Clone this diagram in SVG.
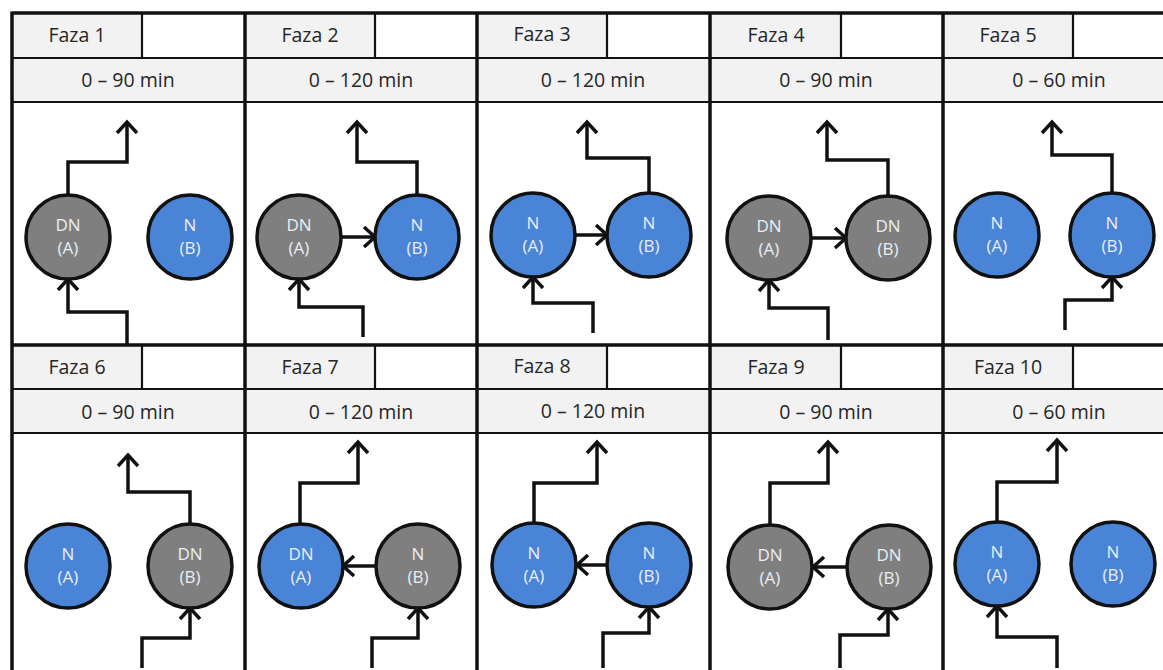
<svg xmlns="http://www.w3.org/2000/svg" width="1163" height="670" viewBox="0 0 1163 670">
<style>
.hd{fill:#f2f2f2}
.t{font-family:"Open Sans","Liberation Sans",sans-serif;font-size:19.5px;fill:#262626;text-anchor:middle}
.ct{font-family:"Open Sans","Liberation Sans",sans-serif;font-size:17px;fill:#e9eef5;text-anchor:middle}
.blue{fill:#4a84d6;stroke:#111;stroke-width:3.5}
.grey{fill:#7f7f7f;stroke:#111;stroke-width:3.5}
.g{stroke:#111;fill:none}
.a{stroke:#111;stroke-width:3.5;fill:none;marker-end:url(#ah)}
</style>
<defs>
<marker id="ah" markerUnits="userSpaceOnUse" markerWidth="30" markerHeight="30" refX="0" refY="0" orient="auto" overflow="visible" viewBox="-15 -15 30 30">
<path d="M-11,-10 L0,0 L-11,10" fill="none" stroke="#111" stroke-width="3.5"/>
</marker>
</defs>
<rect width="1163" height="670" fill="#fff"/>
<g id="cells">
<g id="cell1"><rect class="hd" x="12" y="13" width="130" height="45"/><rect class="hd" x="12" y="58" width="233" height="44"/><text class="t" x="77" y="42">Faza 1</text><text class="t" x="128" y="87">0 – 90 min</text></g>
<g id="cell2"><rect class="hd" x="245" y="13" width="130" height="45"/><rect class="hd" x="245" y="58" width="232" height="44"/><text class="t" x="310" y="42">Faza 2</text><text class="t" x="361" y="87">0 – 120 min</text></g>
<g id="cell3"><rect class="hd" x="477" y="13" width="130" height="45"/><rect class="hd" x="477" y="58" width="233" height="44"/><text class="t" x="542" y="41">Faza 3</text><text class="t" x="593" y="87">0 – 120 min</text></g>
<g id="cell4"><rect class="hd" x="710" y="13" width="131" height="45"/><rect class="hd" x="710" y="58" width="233" height="44"/><text class="t" x="776" y="42">Faza 4</text><text class="t" x="826" y="87">0 – 90 min</text></g>
<g id="cell5"><rect class="hd" x="943" y="13" width="130" height="45"/><rect class="hd" x="943" y="58" width="220" height="44"/><text class="t" x="1008" y="42">Faza 5</text><text class="t" x="1059" y="87">0 – 60 min</text></g>
<g id="cell6"><rect class="hd" x="12" y="345" width="130" height="44"/><rect class="hd" x="12" y="389" width="233" height="44"/><text class="t" x="77" y="374">Faza 6</text><text class="t" x="128" y="419">0 – 90 min</text></g>
<g id="cell7"><rect class="hd" x="245" y="345" width="130" height="44"/><rect class="hd" x="245" y="389" width="232" height="44"/><text class="t" x="310" y="374">Faza 7</text><text class="t" x="361" y="419">0 – 120 min</text></g>
<g id="cell8"><rect class="hd" x="477" y="345" width="130" height="44"/><rect class="hd" x="477" y="389" width="233" height="44"/><text class="t" x="542" y="373">Faza 8</text><text class="t" x="593" y="418">0 – 120 min</text></g>
<g id="cell9"><rect class="hd" x="710" y="345" width="131" height="44"/><rect class="hd" x="710" y="389" width="233" height="44"/><text class="t" x="776" y="374">Faza 9</text><text class="t" x="826" y="419">0 – 90 min</text></g>
<g id="cell10"><rect class="hd" x="943" y="345" width="130" height="44"/><rect class="hd" x="943" y="389" width="220" height="44"/><text class="t" x="1008" y="374">Faza 10</text><text class="t" x="1059" y="419">0 – 60 min</text></g>
</g>
<g id="grid" class="g">
<path stroke-width="3.5" d="M12,13 H1163 M12,345 H1163 M12,11.5 V670 M245,13 V670 M477,13 V670 M710,13 V670 M943,13 V670"/>
<path stroke-width="2.2" d="M12,58 H1163 M12,102 H1163 M12,389 H1163 M12,433 H1163 M142,13 V58 M375,13 V58 M607,13 V58 M841,13 V58 M1073,13 V58 M142,345 V389 M375,345 V389 M607,345 V389 M841,345 V389 M1073,345 V389"/>
</g>
<g id="connectors">
<path class="a" d="M68,195 V162 H127 V122"/>
<path class="a" d="M127,344 V312 H68 V279"/>
<path class="a" d="M417,195 V162 H357 V122"/>
<path class="a" d="M341,237 H375"/>
<path class="a" d="M363,337 V307 H299 V279"/>
<path class="a" d="M649,193 V158 H587 V122"/>
<path class="a" d="M575,235 H607"/>
<path class="a" d="M593,333 V303 H533 V277"/>
<path class="a" d="M888,196 V160 H827 V122"/>
<path class="a" d="M811,238 H846"/>
<path class="a" d="M828,340 V308 H769 V280"/>
<path class="a" d="M1112,193 V155 H1052 V122"/>
<path class="a" d="M1065,330 V300 H1112 V277"/>
<path class="a" d="M190,524 V492 H128 V455"/>
<path class="a" d="M142,668 V638 H190 V608"/>
<path class="a" d="M300,524 V483 H358 V442"/>
<path class="a" d="M376,566 H343"/>
<path class="a" d="M372,668 V638 H418 V608"/>
<path class="a" d="M534,523 V483 H597 V442"/>
<path class="a" d="M607,565 H577"/>
<path class="a" d="M603,668 V633 H649 V607"/>
<path class="a" d="M770,526 V483 H828 V442"/>
<path class="a" d="M847,567 H813"/>
<path class="a" d="M840,668 V635 H888 V609"/>
<path class="a" d="M997,523 V482 H1057 V440"/>
<path class="a" d="M1057,668 V637 H997 V606"/>
</g>
<g id="n1A"><circle class="grey" cx="68" cy="237" r="42"/><text class="ct" x="68" y="231">DN</text><text class="ct" x="68" y="254">(A)</text></g>
<g id="n1B"><circle class="blue" cx="190" cy="237" r="42"/><text class="ct" x="190" y="231">N</text><text class="ct" x="190" y="254">(B)</text></g>
<g id="n2A"><circle class="grey" cx="299" cy="237" r="42"/><text class="ct" x="299" y="231">DN</text><text class="ct" x="299" y="254">(A)</text></g>
<g id="n2B"><circle class="blue" cx="417" cy="237" r="42"/><text class="ct" x="417" y="231">N</text><text class="ct" x="417" y="254">(B)</text></g>
<g id="n3A"><circle class="blue" cx="533" cy="235" r="42"/><text class="ct" x="533" y="229">N</text><text class="ct" x="533" y="252">(A)</text></g>
<g id="n3B"><circle class="blue" cx="649" cy="235" r="42"/><text class="ct" x="649" y="229">N</text><text class="ct" x="649" y="252">(B)</text></g>
<g id="n4A"><circle class="grey" cx="769" cy="238" r="42"/><text class="ct" x="769" y="232">DN</text><text class="ct" x="769" y="255">(A)</text></g>
<g id="n4B"><circle class="grey" cx="888" cy="238" r="42"/><text class="ct" x="888" y="232">DN</text><text class="ct" x="888" y="255">(B)</text></g>
<g id="n5A"><circle class="blue" cx="997" cy="235" r="42"/><text class="ct" x="997" y="229">N</text><text class="ct" x="997" y="252">(A)</text></g>
<g id="n5B"><circle class="blue" cx="1112" cy="235" r="42"/><text class="ct" x="1112" y="229">N</text><text class="ct" x="1112" y="252">(B)</text></g>
<g id="n6A"><circle class="blue" cx="68" cy="566" r="42"/><text class="ct" x="68" y="560">N</text><text class="ct" x="68" y="583">(A)</text></g>
<g id="n6B"><circle class="grey" cx="190" cy="566" r="42"/><text class="ct" x="190" y="560">DN</text><text class="ct" x="190" y="583">(B)</text></g>
<g id="n7A"><circle class="blue" cx="301" cy="566" r="42"/><text class="ct" x="301" y="560">DN</text><text class="ct" x="301" y="583">(A)</text></g>
<g id="n7B"><circle class="grey" cx="418" cy="566" r="42"/><text class="ct" x="418" y="560">N</text><text class="ct" x="418" y="583">(B)</text></g>
<g id="n8A"><circle class="blue" cx="534" cy="565" r="42"/><text class="ct" x="534" y="559">N</text><text class="ct" x="534" y="582">(A)</text></g>
<g id="n8B"><circle class="blue" cx="649" cy="565" r="42"/><text class="ct" x="649" y="559">N</text><text class="ct" x="649" y="582">(B)</text></g>
<g id="n9A"><circle class="grey" cx="770" cy="567" r="42"/><text class="ct" x="770" y="561">DN</text><text class="ct" x="770" y="584">(A)</text></g>
<g id="n9B"><circle class="grey" cx="889" cy="567" r="42"/><text class="ct" x="889" y="561">DN</text><text class="ct" x="889" y="584">(B)</text></g>
<g id="n10A"><circle class="blue" cx="997" cy="564" r="42"/><text class="ct" x="997" y="558">N</text><text class="ct" x="997" y="581">(A)</text></g>
<g id="n10B"><circle class="blue" cx="1113" cy="564" r="42"/><text class="ct" x="1113" y="558">N</text><text class="ct" x="1113" y="581">(B)</text></g>
</svg>
